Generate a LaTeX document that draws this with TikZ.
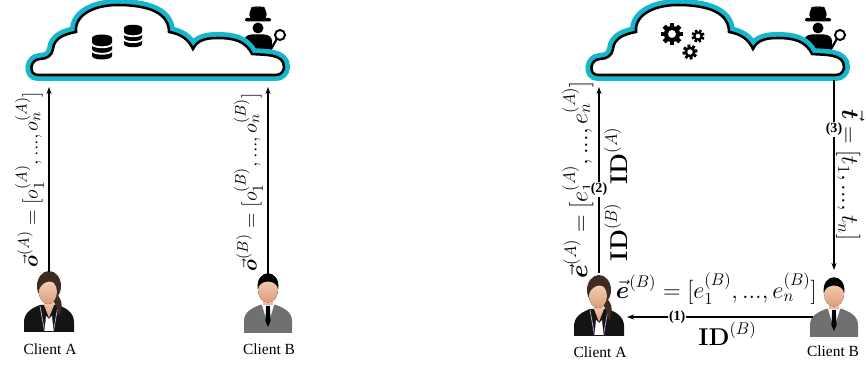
\documentclass[tikz,border=0pt]{standalone}
\usepackage{amsmath}
\usepackage[no-math]{fontspec}
\setmainfont{Liberation Serif}
\usetikzlibrary{arrows.meta}

\definecolor{cloudcyan}{RGB}{22,183,204}
\definecolor{skinlight}{RGB}{246,208,182}
\definecolor{skindark}{RGB}{220,158,122}
\definecolor{hairbrown}{RGB}{62,44,34}
\definecolor{suitgray}{RGB}{112,112,112}
\definecolor{lapel}{RGB}{205,175,225}

% outline of the cloud, in pixel units
\newcommand\cloudpath{(38,290) to[out=180,in=180,looseness=1.6] (40,306)
  to[out=0,in=-95] (53,316) to[out=85,in=190] (76,333)
  to[out=95,in=180] (117,360) to[out=0,in=90] (169,333)
  to[out=-10,in=115] (193,316) to[out=65,in=180] (218,327)
  to[out=0,in=115] (252,311) to[out=-5,in=90] (284,298)
  to[out=-90,in=0] (276,290) -- cycle}

\begin{document}
\begin{tikzpicture}[x=0.025cm, y=0.025cm, line width=0.8pt,
    >={Stealth[length=5pt,width=3.6pt]},
    skin/.style={top color=skinlight, bottom color=skindark},
    vec/.style={font=\fontsize{16.5}{20}\selectfont},
    num/.style={fill=white, inner sep=0.6pt, font=\fontsize{10}{12}\selectfont\bfseries},
    who/.style={font=\fontsize{11}{13}\selectfont},
    cloud/.pic={
      % agent on the cloud
      \fill[rounded corners=3pt] (249,346) -- (250,356.5) -- (254,359) -- (258,357.5) -- (262,359) -- (266,356.5) -- (267,346) -- cycle;
      \fill[rounded corners=1pt] (245,343.5) rectangle (271,347);
      \fill (258,337) ellipse [x radius=5.5, y radius=5.5];
      \fill (244,316) -- (244.5,325) to[out=90,in=180] (252,330.5) -- (264,330.5) to[out=0,in=90] (272,324) -- (272,316) -- cycle;
      \draw[line width=1.5pt, line cap=round] (276.5,325.5) -- (270,314);
      \draw[line width=1.4pt, fill=white] (280,330) circle (5);
      % the cloud itself
      \draw[line width=1.8pt, fill=white, preaction={draw=cloudcyan, line width=8.5pt}] \cloudpath;
    },
    db/.pic={
      \fill (-10,9) arc[start angle=180, end angle=0, x radius=10, y radius=3.5]
        -- (10,-9) arc[start angle=0, end angle=-180, x radius=10, y radius=3.5] -- cycle;
      \foreach \h in {3.5,-3}
        \draw[white, line width=1.3pt] (-10.5,\h) arc[start angle=180, end angle=360, x radius=10.5, y radius=3.8];
    },
    gear/.pic={
      \fill (0,0) circle (0.74);
      \foreach \a in {0,45,...,315}
        \fill[rotate=\a] (-0.2,0.6) rectangle (0.2,1);
      \fill[white] (0,0) circle (0.36);
    },
    woman/.pic={
      \fill[black!92] (-25,0) -- (-25,10) to[out=90,in=200] (-9,27) -- (9,27) to[out=-20,in=90] (25,10) -- (25,0) -- cycle;
      \fill[skin] (-5,33) -- (-5,27) -- (0,14) -- (5,27) -- (5,33) -- cycle;
      \fill[white] (-3,16) -- (0,13) -- (3,16) -- (4.5,1) -- (-4.5,1) -- cycle;
      \draw[lapel, line width=0.5pt] (-9,26) -- (-4.5,1) (9,26) -- (4.5,1);
      \fill[hairbrown] (0,46) ellipse [x radius=12, y radius=15];
      \fill[hairbrown] (7,38) .. controls (15,32) and (13,22) .. (10,15) .. controls (9,23) and (6,30) .. (2,34) -- cycle;
      \fill[skin] (-1,40) ellipse [x radius=9, y radius=12];
      \fill[hairbrown] (-10.5,42) .. controls (-11,63) and (12,63) .. (10.5,44) .. controls (5,52) and (-4,54) .. (-10.5,42) -- cycle;
    },
    man/.pic={
      \fill[suitgray] (-24,0) -- (-24,12) to[out=90,in=200] (-8,28) -- (8,28) to[out=-20,in=90] (24,12) -- (24,0) -- cycle;
      \fill[skin] (-4.5,33) rectangle (4.5,26);
      \fill[white] (-6,28) -- (0,8) -- (6,28) -- cycle;
      \draw[black!55, line width=0.5pt] (-8,28) -- (-2,9) (8,28) -- (2,9);
      \fill (-1.8,27) -- (1.8,27) -- (2.6,12) -- (0,6) -- (-2.6,12) -- cycle;
      \fill[skin] (0,43) ellipse [x radius=10, y radius=12.5];
      \fill (-10.3,44) .. controls (-12.5,65) and (12.5,65) .. (10.3,44) .. controls (8,54) and (-8,54) .. (-10.3,44) -- cycle;
    }]
  \useasboundingbox (0,0) rectangle (866,365);

  % clouds: storage on the left, computation on the right
  \pic at (0,0) {cloud};
  \pic at (560,0) {cloud};
  \pic at (102,318) {db};
  \pic[scale=0.9] at (133,329) {db};
  \pic[scale=11] at (672,331) {gear};
  \pic[scale=6.5, rotate=20] at (698,329) {gear};
  \pic[scale=7.5, rotate=10] at (690,313) {gear};

  % clients
  \pic at (49,33) {woman};
  \pic at (268,32) {man};
  \pic at (599,29) {woman};
  \pic at (834,28) {man};
  \node[who] (nameA1) at (50,16) {Client A};
  \node[who] (nameB1) at (269,16) {Client B};
  \node[who] (nameA2) at (600,13) {Client A};
  \node[who] (nameB2) at (833,14) {Client B};

  \coordinate (hA1) at (49,93);
  \coordinate (hB1) at (268,88);
  \coordinate (hA2) at (599,92);
  \coordinate (hB2) at (834,95);
  \coordinate (up1a) at (49,278);
  \coordinate (up1b) at (268,278);
  \coordinate (up2a) at (599,278);
  \coordinate (dn2b) at (834,285);
  \coordinate (sB2) at (813,48);
  \coordinate (sA2) at (627,48);

  % uploads
  \draw[->] (hA1) -- (up1a)
    node[vec, font=\fontsize{15.5}{19}\selectfont, rotate=90, midway, above] {$\vec{\boldsymbol{o}}^{(A)} = [o_1^{(A)}, ..., o_n^{(A)}]$};
  \draw[->] (hB1) -- (up1b)
    node[vec, font=\fontsize{15.5}{19}\selectfont, rotate=90, midway, above] {$\vec{\boldsymbol{o}}^{(B)} = [o_1^{(B)}, ..., o_n^{(B)}]$};

  % protocol steps
  \draw[->] (sB2) -- (sA2)
    node[num, pos=0.73] {(1)}
    node[vec, pos=0.52, above, yshift=5pt] {$\vec{\boldsymbol{e}}^{(B)} = [e_1^{(B)}, ..., e_n^{(B)}]$}
    node[vec, pos=0.46, below] {$\mathbf{ID}^{(B)}$};
  \draw[->] (hA2) -- (up2a)
    node[vec, rotate=90, midway, above] {$\vec{\boldsymbol{e}}^{(A)} = [e_1^{(A)}, ..., e_n^{(A)}]$}
    node[vec, rotate=90, pos=0.22, below] {$\mathbf{ID}^{(B)}$}
    node[vec, rotate=90, pos=0.63, below] {$\mathbf{ID}^{(A)}$}
    node[num, pos=0.45] {(2)};
  \draw[->] (dn2b) -- (hB2)
    node[vec, rotate=-90, midway, above, inner sep=1pt] {$\vec{\boldsymbol{t}} = [t_1, ..., t_n]$}
    node[num, pos=0.26] {(3)};
\end{tikzpicture}
\end{document}
